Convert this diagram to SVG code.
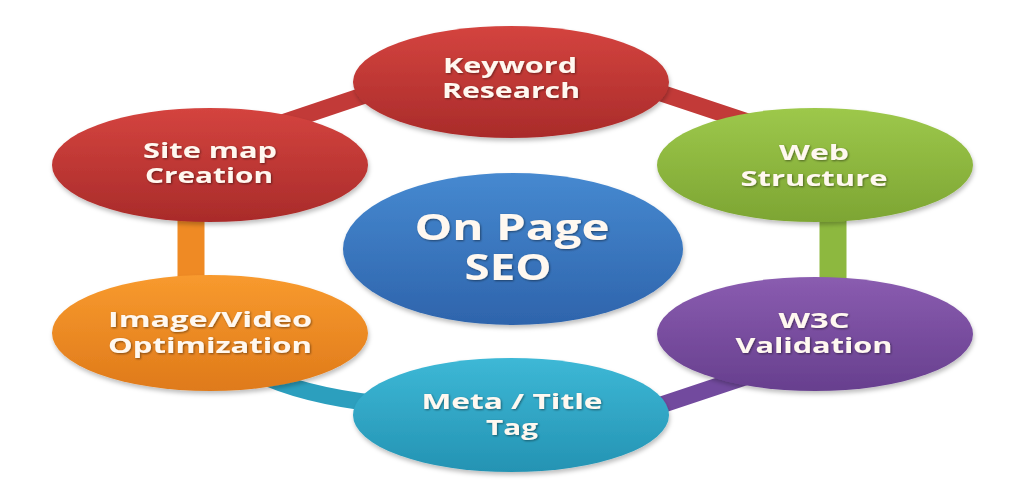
<svg xmlns="http://www.w3.org/2000/svg" width="1024" height="500" viewBox="0 0 1024 500">
<defs>
<linearGradient id="gRed" x1="0" y1="0" x2="0" y2="1"><stop offset="0" stop-color="#D4443F"/><stop offset="1" stop-color="#A92B2A"/></linearGradient>
<linearGradient id="gGreen" x1="0" y1="0" x2="0" y2="1"><stop offset="0" stop-color="#9DC84B"/><stop offset="1" stop-color="#7DA533"/></linearGradient>
<linearGradient id="gPurple" x1="0" y1="0" x2="0" y2="1"><stop offset="0" stop-color="#8A5CB0"/><stop offset="1" stop-color="#673F8E"/></linearGradient>
<linearGradient id="gTeal" x1="0" y1="0" x2="0" y2="1"><stop offset="0" stop-color="#3DB8D6"/><stop offset="1" stop-color="#2493B3"/></linearGradient>
<linearGradient id="gOrange" x1="0" y1="0" x2="0" y2="1"><stop offset="0" stop-color="#F89A2E"/><stop offset="1" stop-color="#DF7A1A"/></linearGradient>
<linearGradient id="gBlue" x1="0" y1="0" x2="0" y2="1"><stop offset="0" stop-color="#4689D0"/><stop offset="1" stop-color="#2E64AC"/></linearGradient>
<filter id="sh" x="-10%" y="-10%" width="120%" height="130%"><feDropShadow dx="1" dy="3" stdDeviation="2" flood-color="#000" flood-opacity="0.25"/></filter>
<filter id="tsh" x="-10%" y="-20%" width="120%" height="150%"><feDropShadow dx="1" dy="1" stdDeviation="0.8" flood-color="#000" flood-opacity="0.45"/></filter>
</defs>
<style>
.lbl{font-family:"Open Sans","DejaVu Sans",sans-serif;font-weight:bold;font-size:22px;fill:#FFF8F0;text-anchor:middle;filter:url(#tsh)}
.big{font-size:35px}
.conn{fill:none;stroke-linecap:butt}
.node ellipse{filter:url(#sh)}
</style>
<rect width="1024" height="500" fill="#FFFFFF"/>
<g id="connectors">
<line class="conn" x1="270" y1="127" x2="380" y2="90" stroke="#C23A38" stroke-width="17"/>
<line class="conn" x1="640" y1="86" x2="760" y2="126" stroke="#C23A38" stroke-width="17"/>
<line class="conn" x1="833" y1="205" x2="833" y2="290" stroke="#8DB83F" stroke-width="27"/>
<line class="conn" x1="640" y1="412" x2="760" y2="372" stroke="#724A9E" stroke-width="17"/>
<path class="conn" d="M255,372 Q300,395 380,404" stroke="#2C9FBE" stroke-width="17"/>
<line class="conn" x1="191" y1="205" x2="191" y2="290" stroke="#EF8A24" stroke-width="27"/>
</g>
<g id="node-keyword" class="node">
<ellipse cx="511" cy="82" rx="158" ry="56" fill="url(#gRed)"/>
<text class="lbl" x="510" y="73" textLength="134" lengthAdjust="spacingAndGlyphs">Keyword</text>
<text class="lbl" x="511" y="98" textLength="138" lengthAdjust="spacingAndGlyphs">Research</text>
</g>
<g id="node-web" class="node">
<ellipse cx="815" cy="165" rx="158" ry="57" fill="url(#gGreen)"/>
<text class="lbl" x="814" y="160" textLength="70" lengthAdjust="spacingAndGlyphs">Web</text>
<text class="lbl" x="814" y="186" textLength="147" lengthAdjust="spacingAndGlyphs">Structure</text>
</g>
<g id="node-w3c" class="node">
<ellipse cx="815" cy="334" rx="158" ry="57" fill="url(#gPurple)"/>
<text class="lbl" x="814" y="328" textLength="71" lengthAdjust="spacingAndGlyphs">W3C</text>
<text class="lbl" x="814" y="353" textLength="157" lengthAdjust="spacingAndGlyphs">Validation</text>
</g>
<g id="node-meta" class="node">
<ellipse cx="511" cy="415" rx="158" ry="57" fill="url(#gTeal)"/>
<text class="lbl" x="512" y="409" textLength="181" lengthAdjust="spacingAndGlyphs">Meta / Title</text>
<text class="lbl" x="512" y="435" textLength="52" lengthAdjust="spacingAndGlyphs">Tag</text>
</g>
<g id="node-image" class="node">
<ellipse cx="210" cy="333" rx="158" ry="58" fill="url(#gOrange)"/>
<text class="lbl" x="210" y="327" textLength="204" lengthAdjust="spacingAndGlyphs">Image/Video</text>
<text class="lbl" x="210" y="353" textLength="204" lengthAdjust="spacingAndGlyphs">Optimization</text>
</g>
<g id="node-sitemap" class="node">
<ellipse cx="210" cy="165" rx="158" ry="57" fill="url(#gRed)"/>
<text class="lbl" x="210" y="158" textLength="134" lengthAdjust="spacingAndGlyphs">Site map</text>
<text class="lbl" x="209" y="183" textLength="128" lengthAdjust="spacingAndGlyphs">Creation</text>
</g>
<g id="node-center" class="node">
<ellipse cx="513" cy="249" rx="170" ry="76" fill="url(#gBlue)"/>
<text class="lbl big" x="512" y="240" textLength="195" lengthAdjust="spacingAndGlyphs">On Page</text>
<text class="lbl big" x="508" y="280" textLength="87" lengthAdjust="spacingAndGlyphs">SEO</text>
</g>
</svg>
